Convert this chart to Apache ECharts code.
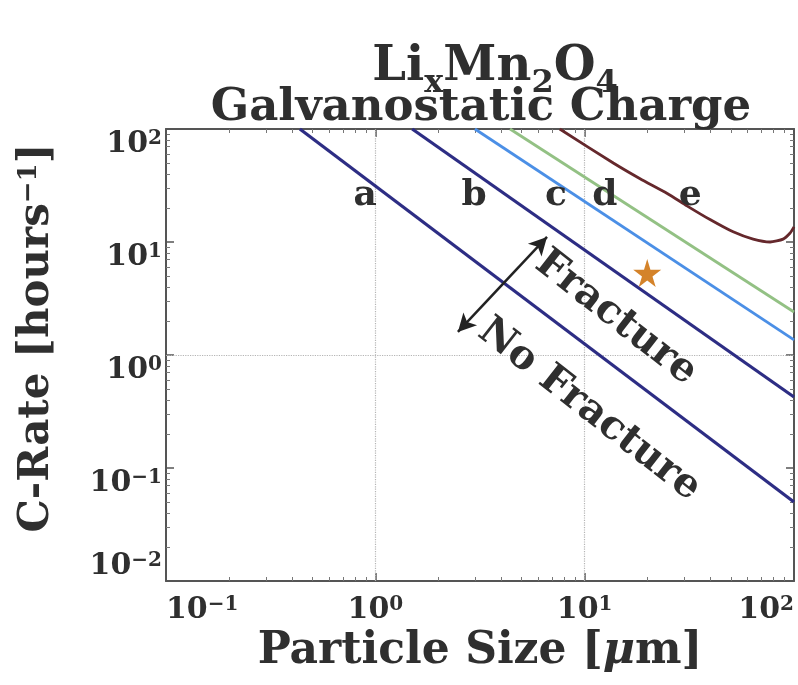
<!DOCTYPE html>
<html>
<head>
<meta charset="utf-8"/>
<title>LixMn2O4 Galvanostatic Charge</title>
<script src="https://cdn.jsdelivr.net/npm/echarts@6/dist/echarts.min.js"></script>
</head>
<body style="margin:0;background:#fff">
<div id="main" style="width:798px;height:685px;"></div>
<script type="text/javascript">
// axis ranges (log scale)
var xRange = [0.1, 100];
var yRange = [0.01, 100];

// fracture boundary curves: [particle size um, C-rate 1/h]
var curveA = [[0.436, 100], [100, 0.050]];
var curveB = [[1.50, 100], [100, 0.425]];
var curveC = [[2.99, 100], [100, 1.36]];
var curveD = [[4.40, 100], [100, 2.40]];
var curveE = [[7.6, 100], [13.7, 50], [18.4, 36.3], [24.8, 26.9], [30.8, 20.9], [39.7, 15.8],
              [51.2, 12.3], [63.8, 10.6], [76.9, 10.0], [88.7, 10.6], [95.8, 12.0], [100, 13.6]];

// annotations
var curveLetters = [[0.894, 25.5, 'a'], [2.96, 25.5, 'b'], [7.30, 25.5, 'c'], [12.5, 25.5, 'd'], [31.9, 25.5, 'e']];
var regionText = [[14.1, 2.12, 'Fracture'], [10.5, 0.326, 'No Fracture']];
var arrowEnds = [[2.48, 1.60], [6.61, 11.1]];
var starPoint = [[19.9, 5.32]];
var gridX = [1, 10];
var gridY = [1];

var FONT = 'DejaVu Serif';
var INK = '#2f2f2f';

function powLabel(v) {
    var e = Math.round(Math.log10(v));
    return '{b|10}{p|' + (e < 0 ? '\u2212' + (-e) : e) + '}';
}
var tickRich = {
    b: {fontFamily: FONT, fontWeight: 'bold', fontSize: 30, lineHeight: 30, color: INK},
    p: {fontFamily: FONT, fontWeight: 'bold', fontSize: 20, lineHeight: 20, color: INK, verticalAlign: 'top'}
};
var frameLine = {show: true, lineStyle: {color: '#555', width: 2}};
var frameTick = {show: true, inside: true, length: 8, lineStyle: {color: '#555', width: 1.5}};
var frameMinor = {show: true, splitNumber: 9, length: 4, lineStyle: {color: '#777', width: 1}};

var myChart = echarts.init(document.getElementById('main'));

var option = {
    animation: false,
    backgroundColor: '#fff',
    title: [{
        text: '{b|Li}{s|x}{b|Mn}{s|2}{b|O}{s|4}',
        left: 495, top: 44, textAlign: 'center', padding: 0,
        textStyle: {rich: {
            b: {fontFamily: FONT, fontWeight: 'bold', fontSize: 48, lineHeight: 48, color: INK, verticalAlign: 'top'},
            s: {fontFamily: FONT, fontWeight: 'bold', fontSize: 32, lineHeight: 32, color: INK, verticalAlign: 'top', padding: [24, 0, 0, 0]}
        }}
    }, {
        text: 'Galvanostatic Charge',
        left: 481, top: 85, textAlign: 'center', padding: 0,
        textStyle: {fontFamily: FONT, fontWeight: 'bold', fontSize: 45, lineHeight: 46, color: INK}
    }],
    grid: {left: 166, right: 4, top: 129, bottom: 104, outerBoundsMode: 'none', containLabel: false},
    xAxis: [{
        type: 'log', logBase: 10, min: xRange[0], max: xRange[1], position: 'bottom',
        axisLine: frameLine, axisTick: frameTick, minorTick: frameMinor,
        splitLine: {show: false},
        axisLabel: {formatter: powLabel, rich: tickRich, margin: 14, alignMinLabel: 'left', alignMaxLabel: 'right'},
        name: '{t|Particle Size [}{i|\u03bc}{t|m]}',
        nameLocation: 'middle', nameGap: 42,
        nameTextStyle: {rich: {
            t: {fontFamily: FONT, fontWeight: 'bold', fontSize: 44, color: INK},
            i: {fontFamily: FONT, fontWeight: 'bold', fontStyle: 'italic', fontSize: 44, color: INK}
        }}
    }, {
        type: 'log', logBase: 10, min: xRange[0], max: xRange[1], position: 'top',
        axisLine: frameLine, axisTick: frameTick, minorTick: frameMinor,
        splitLine: {show: false}, axisLabel: {show: false}
    }],
    yAxis: [{
        type: 'log', logBase: 10, min: yRange[0], max: yRange[1], position: 'left',
        axisLine: frameLine, axisTick: frameTick, minorTick: frameMinor,
        splitLine: {show: false},
        axisLabel: {formatter: powLabel, rich: tickRich, margin: 4, verticalAlign: 'top', verticalAlignMinLabel: 'bottom'},
        name: '{t|C-Rate [hours}{p|\u22121}{t|]}',
        nameLocation: 'middle', nameGap: 108,
        nameTextStyle: {
            padding: [0, 0, 0, 34],
            rich: {
                t: {fontFamily: FONT, fontWeight: 'bold', fontSize: 42, lineHeight: 42, color: INK},
                p: {fontFamily: FONT, fontWeight: 'bold', fontSize: 26, lineHeight: 26, color: INK, verticalAlign: 'top'}
            }
        }
    }, {
        type: 'log', logBase: 10, min: yRange[0], max: yRange[1], position: 'right',
        axisLine: frameLine, axisTick: frameTick, minorTick: frameMinor,
        splitLine: {show: false}, axisLabel: {show: false}
    }],
    series: [
        {
            name: 'a', type: 'line', data: curveA, showSymbol: false, z: 3,
            lineStyle: {color: '#2d2d84', width: 3.2},
            markLine: {
                silent: true, symbol: 'none', label: {show: false}, z: 1,
                lineStyle: {color: '#b5b5b5', type: 'dotted', width: 1.2},
                data: gridX.map(function (v) { return {xAxis: v}; }).concat(gridY.map(function (v) { return {yAxis: v}; }))
            }
        },
        {name: 'b', type: 'line', data: curveB, showSymbol: false, z: 3, lineStyle: {color: '#2d2d84', width: 3.2}},
        {name: 'c', type: 'line', data: curveC, showSymbol: false, z: 3, lineStyle: {color: '#4b8fe6', width: 2.8}},
        {name: 'd', type: 'line', data: curveD, showSymbol: false, z: 3, lineStyle: {color: '#93c184', width: 2.8}},
        {name: 'e', type: 'line', data: curveE, showSymbol: false, z: 3, smooth: 0.2, lineStyle: {color: '#65282c', width: 2.8}},
        {
            name: 'star', type: 'scatter', data: starPoint, z: 4,
            symbol: 'path://M50,0 L61,35 L98,35 L68,57 L79,91 L50,70 L21,91 L32,57 L2,35 L39,35 Z',
            symbolSize: 28, itemStyle: {color: '#d4832a', opacity: 1},
            markLine: {
                silent: true, symbol: ['arrow', 'arrow'], symbolSize: [14, 18], label: {show: false},
                lineStyle: {color: '#222', type: 'solid', width: 2.5, opacity: 1},
                data: [[{coord: arrowEnds[0]}, {coord: arrowEnds[1]}]]
            }
        },
        {
            name: 'letters', type: 'scatter', data: curveLetters, symbolSize: 0, z: 5,
            itemStyle: {opacity: 1},
            label: {show: true, position: 'inside', formatter: function (p) { return p.data[2]; },
                fontFamily: FONT, fontWeight: 'bold', fontSize: 36, color: INK}
        },
        {
            name: 'regions', type: 'scatter', data: regionText, symbolSize: 0, z: 5,
            itemStyle: {opacity: 1},
            label: {show: true, position: 'inside', rotate: -38, formatter: function (p) { return p.data[2]; },
                fontFamily: FONT, fontWeight: 'bold', fontSize: 40, color: INK}
        }
    ]
};

myChart.setOption(option);
</script>
</body>
</html>
